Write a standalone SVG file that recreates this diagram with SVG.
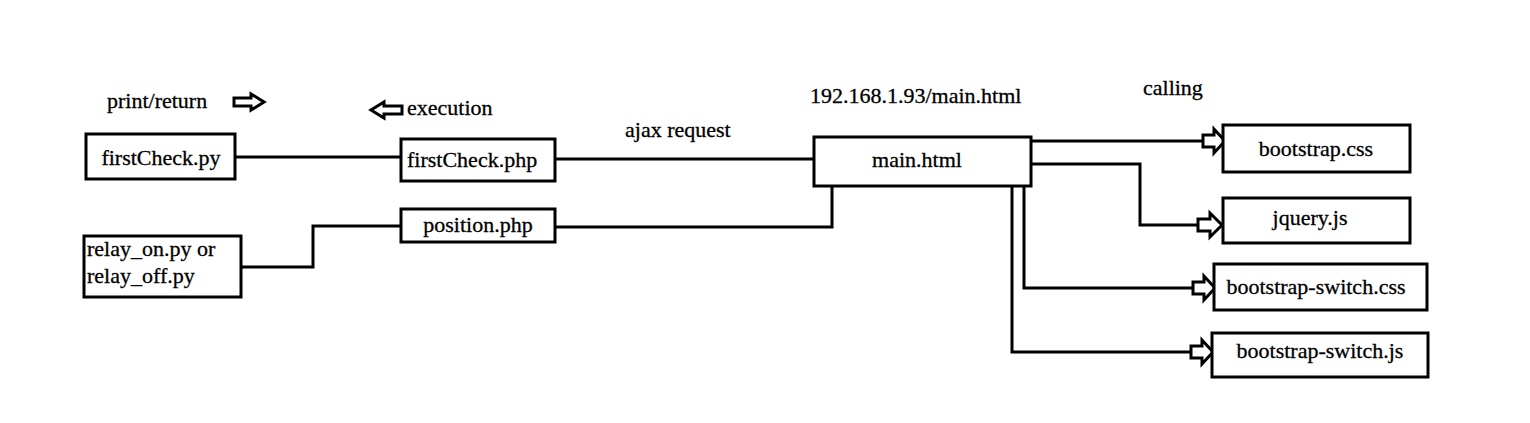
<svg xmlns="http://www.w3.org/2000/svg" width="1530" height="423" viewBox="0 0 1530 423" font-family="'Liberation Serif', 'DejaVu Serif', serif" font-size="22">
<defs>
<style>
.box{fill:#fff;stroke:#000;stroke-width:3}
.ln{fill:none;stroke:#000;stroke-width:3}
.ar{fill:#fff;stroke:#000;stroke-width:3;stroke-linejoin:miter}
.t{font-family:'Liberation Serif','DejaVu Serif',serif;font-size:22px;fill:#000;stroke:#000;stroke-width:0.3}
.c{text-anchor:middle}
</style>
</defs>
<rect width="1530" height="423" fill="#fff"/>
<g id="labels">
<text class="t" x="107" y="108">print/return</text>
<path class="ar" d="M234,98 H251 V94 L264,102 L251,110 V106 H234 Z"/>
<path class="ar" d="M402,106 H384 V102 L371,110 L384,118 V114 H402 Z"/>
<text class="t" x="407" y="115">execution</text>
<text class="t" x="625" y="137">ajax request</text>
<text class="t" x="810" y="103">192.168.1.93/main.html</text>
<text class="t" x="1143" y="95">calling</text>
</g>
<g id="connectors">
<path class="ln" d="M236,157 H401"/>
<path class="ln" d="M241,267 H313 V226 H401"/>
<path class="ln" d="M555,159 H814"/>
<path class="ln" d="M555,227 H832 V186"/>
<path class="ln" d="M1031,141 H1203"/>
<path class="ar" d="M1203,135 H1214 V129 L1225,141 L1214,153 V147 H1203 Z"/>
<path class="ln" d="M1027,164 H1140 V225 H1198"/>
<path class="ar" d="M1198,219 H1210 V213 L1222,225 L1210,237 V231 H1198 Z"/>
<path class="ln" d="M1024,186 V288 H1193"/>
<path class="ar" d="M1193,282 H1204 V276 L1215,288 L1204,300 V294 H1193 Z"/>
<path class="ln" d="M1012,186 V352 H1191"/>
<path class="ar" d="M1191,346 H1202 V340 L1213,352 L1202,364 V358 H1191 Z"/>
</g>
<g id="firstCheck_py">
<rect class="box" x="86" y="134" width="149" height="45"/>
<text class="t c" x="161" y="165">firstCheck.py</text>
</g>
<g id="firstCheck_php">
<rect class="box" x="401" y="139" width="154" height="42"/>
<text class="t" x="407" y="167">firstCheck.php</text>
</g>
<g id="position_php">
<rect class="box" x="401" y="209" width="154" height="33"/>
<text class="t c" x="478" y="232">position.php</text>
</g>
<g id="relay_py">
<rect class="box" x="84" y="236" width="157" height="61"/>
<text class="t" x="87" y="256">relay_on.py or</text>
<text class="t" x="87" y="283">relay_off.py</text>
</g>
<g id="main_html">
<rect class="box" x="814" y="137" width="217" height="49"/>
<text class="t c" x="917" y="167">main.html</text>
</g>
<g id="bootstrap_css">
<rect class="box" x="1223" y="125" width="187" height="47"/>
<text class="t c" x="1316" y="156">bootstrap.css</text>
</g>
<g id="jquery_js">
<rect class="box" x="1223" y="198" width="187" height="45"/>
<text class="t c" x="1310" y="225">jquery.js</text>
</g>
<g id="bootstrap_switch_css">
<rect class="box" x="1214" y="264" width="213" height="46"/>
<text class="t c" x="1316" y="294">bootstrap-switch.css</text>
</g>
<g id="bootstrap_switch_js">
<rect class="box" x="1212" y="333" width="216" height="44"/>
<text class="t c" x="1320" y="358">bootstrap-switch.js</text>
</g>
</svg>
